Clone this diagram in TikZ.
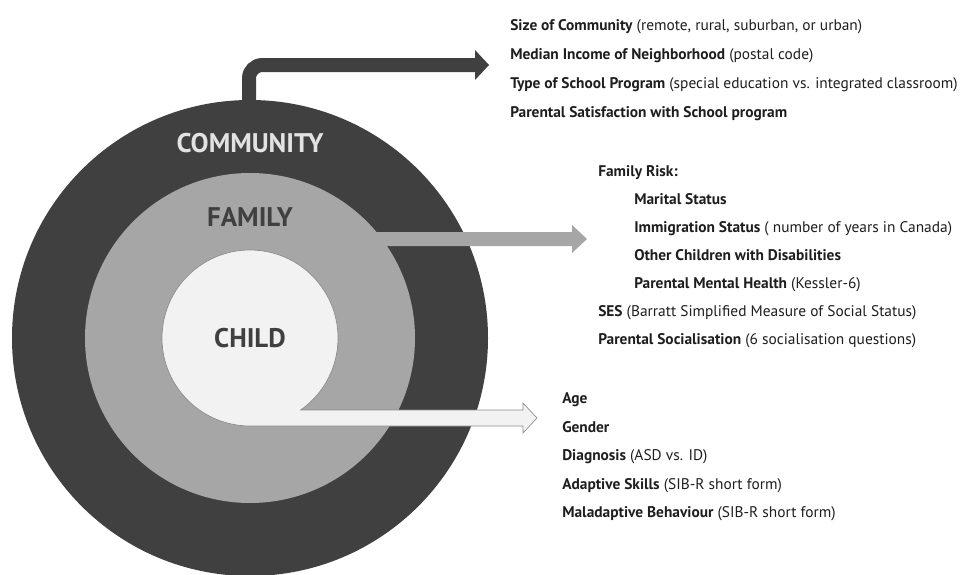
\documentclass[tikz,border=0pt]{standalone}
\usepackage{fontspec}
\setmainfont{PT Sans}
\definecolor{ringdark}{HTML}{404040}
\definecolor{ringmid}{HTML}{A6A6A6}
\definecolor{ringlight}{HTML}{F2F2F2}
\definecolor{ringedge}{HTML}{8C8C8C}
\definecolor{ink}{HTML}{1E1E1E}
\definecolor{commtext}{HTML}{E2E2E2}
\begin{document}
\begin{tikzpicture}[x=0.75pt,y=-0.75pt,
  item/.style={anchor=base west, inner sep=0pt, text=ink, font=\fontsize{11.55}{13}\selectfont},
  ringlabel/.style={anchor=base, inner sep=0pt, font=\bfseries\fontsize{20.2}{24}\selectfont}]
\useasboundingbox (0,0) rectangle (961,575);

% common centre of the three rings
\coordinate (ctr) at (250,338);

% community ring and its bent arrow
\fill[ringdark] (ctr) circle[radius=238];
\coordinate (commstart) at (249,130);
\coordinate (commbend) at (249,65);
\coordinate (commend) at (476,65);
\draw[ringdark, line width=10.5pt, rounded corners=10pt] (commstart) -- (commbend) -- (commend);
\fill[ringdark] (475,50) -- (489,65) -- (475,80) -- cycle;

% family ring and its arrow
\fill[ringmid] (ctr) circle[radius=165];
\fill[ringmid] (330,232) -- (572,232) -- (572,225) -- (587,239) -- (572,253) -- (572,246) -- (330,246) -- cycle;

% child disc merged with its arrow
\filldraw[fill=ringlight, draw=ringedge, line width=0.5pt]
  (250,426) -- (523,426) -- (523,433) -- (537,418) -- (523,403) -- (523,410)
  -- (300.6,410) arc[start angle=54.9, end angle=-270, radius=88] -- cycle;

% ring labels
\node[ringlabel, text=commtext] (community) at (250,152) {COMMUNITY};
\node[ringlabel, text=ringdark] (family) at (250,226) {FAMILY};
\node[ringlabel, text=ringdark] (child) at (250,347) {CHILD};

% community variables
\node[item] (c1) at (510,30) {\textbf{Size of Community} (remote, rural, suburban, or urban)};
\node[item] (c2) at (510,59) {\textbf{Median Income of Neighborhood} (postal code)};
\node[item] (c3) at (510,88) {\textbf{Type of School Program} (special education vs. integrated classroom)};
\node[item] (c4) at (510,117) {\textbf{Parental Satisfaction with School program}};

% family variables
\node[item] (f1) at (598,176) {\textbf{Family Risk:}};
\node[item] (f2) at (634,204) {\textbf{Marital Status}};
\node[item] (f3) at (634,232) {\textbf{Immigration Status} ( number of years in Canada)};
\node[item] (f4) at (634,260) {\textbf{Other Children with Disabilities}};
\node[item] (f5) at (634,288) {\textbf{Parental Mental Health} (Kessler-6)};
\node[item] (f6) at (598,316) {\textbf{SES} (Barratt Simplified Measure of Social Status)};
\node[item] (f7) at (598,344) {\textbf{Parental Socialisation} (6 socialisation questions)};

% child variables
\node[item] (k1) at (562,403) {\textbf{Age}};
\node[item] (k2) at (562,432) {\textbf{Gender}};
\node[item] (k3) at (562,460) {\textbf{Diagnosis} (ASD vs. ID)};
\node[item] (k4) at (562,489) {\textbf{Adaptive Skills} (SIB-R short form)};
\node[item] (k5) at (562,517) {\textbf{Maladaptive Behaviour} (SIB-R short form)};
\end{tikzpicture}
\end{document}
